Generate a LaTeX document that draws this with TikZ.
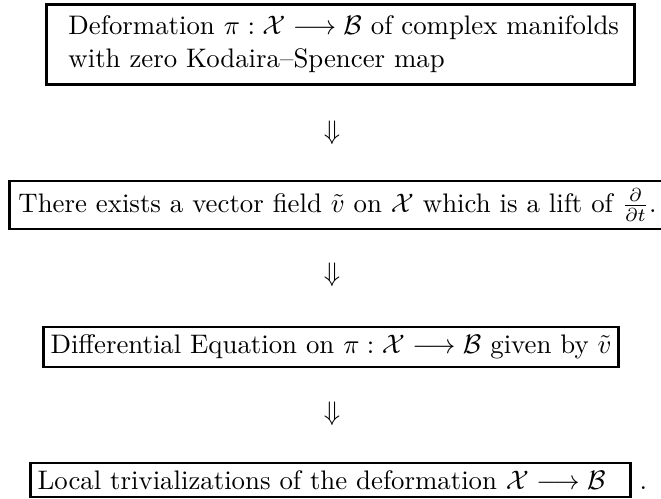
\documentclass[tikz,border=0pt]{standalone}
\usepackage{amsmath}
\newlength{\refw}
\newlength{\pxu}
\AtBeginDocument{%
  \settowidth{\refw}{\normalfont\normalsize There exists a vector field $\tilde v$ on $\mathcal{X}$ which is a lift of $\frac{\partial}{\partial t}$.}%
  \setlength{\pxu}{\dimexpr\refw/638\relax}%
  \xdef\pxuval{\the\pxu}}
\begin{document}
\begin{tikzpicture}[x=\pxuval, y=-\pxuval,
  boxnode/.style={draw, line width=1.1pt, inner ysep=0pt, align=left},
  implies/.style={inner sep=0pt}]
\useasboundingbox (0,0) rectangle (661,499);
\clip (0,0) rectangle (661,499);
\node[boxnode, anchor=north west, inner xsep={22*\pxu}, text width={544*\pxu}, minimum height={80*\pxu},
  font=\fontsize{10}{12.4}\selectfont] (b1) at (45,3)
  {\mbox{Deformation $\pi:\mathcal{X}\longrightarrow\mathcal{B}$ of complex manifolds}\\
   \mbox{with zero Kodaira--Spencer map}};
\node[implies] (a1) at (332,133) {$\Downarrow$};
\node[boxnode, anchor=west, inner xsep={9*\pxu}, minimum height={48*\pxu}] (b2) at (8,205)
  {There exists a vector field $\tilde v$ on $\mathcal{X}$ which is a lift of $\frac{\partial}{\partial t}$.};
\node[implies] (a2) at (332,275) {$\Downarrow$};
\node[boxnode, anchor=east, inner xsep={7*\pxu}, minimum height={40*\pxu}] (b3) at (620,347)
  {Differential Equation on $\pi:\mathcal{X}\longrightarrow\mathcal{B}$ given by $\tilde v$};
\node[implies] (a3) at (332,414) {$\Downarrow$};
\node[boxnode, anchor=east, inner xsep={7*\pxu}, minimum height={34*\pxu}] (b4) at (632,480)
  {Local trivializations of the deformation $\mathcal{X}\longrightarrow\mathcal{B}$\hspace{18\pxu}};
\node[anchor=base west, inner sep=0pt] (dot) at ([xshift={7*\pxu}]b4.base east) {.};
\end{tikzpicture}
\end{document}
